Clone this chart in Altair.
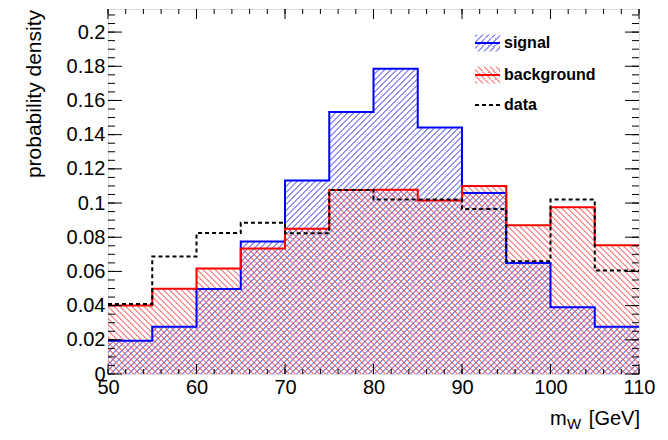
import altair as alt
import numpy as np
import pandas as pd

# ---------------- data ----------------
bin_low = [50, 55, 60, 65, 70, 75, 80, 85, 90, 95, 100, 105]
signal = [0.0195, 0.0277, 0.0497, 0.0775, 0.1132, 0.1532, 0.1785, 0.1442, 0.1058, 0.0650, 0.0390, 0.0277]
background = [0.0400, 0.0498, 0.0617, 0.0734, 0.0850, 0.1077, 0.1078, 0.1015, 0.1100, 0.0870, 0.0975, 0.0753]
data_vals = [0.0410, 0.0688, 0.0825, 0.0884, 0.0824, 0.1077, 0.1020, 0.1020, 0.0965, 0.0660, 0.1020, 0.0606]
x_labels = [50, 60, 70, 80, 90, 100, 110]
y_labels = [0, 0.02, 0.04, 0.06, 0.08, 0.1, 0.12, 0.14, 0.16, 0.18, 0.2]
series_names = ["signal", "background", "data"]

# ---------------- layout / style ----------------
X0, X1 = 50, 110
YMAX = 0.2135
PW, PH = 531, 365
FONT = "Liberation Sans"
BLUE, RED = "#0000ff", "#ff0000"
BLUE_HATCH, RED_HATCH = "rgba(50,50,235,0.52)", "rgba(240,55,55,0.52)"
CLEAR = "rgba(255,255,255,0)"

xscale = alt.Scale(domain=[X0, X1], nice=False, zero=False)
yscale = alt.Scale(domain=[0, YMAX], nice=False, zero=True)

x_axis = alt.Axis(values=x_labels, ticks=False, domain=False, grid=False, title=None,
                  labelFontSize=20, labelPadding=3, labelFlush=False, labelOverlap=False,
                  labelFont=FONT, labelColor="black")
y_axis = alt.Axis(values=y_labels, format="~g", ticks=False, domain=False, grid=False, title=None,
                  labelFontSize=20, labelPadding=3, labelFlush=False, labelOverlap=False,
                  labelFont=FONT, labelColor="black")
x_enc = alt.X("x:Q", scale=xscale, axis=x_axis)
y_enc = alt.Y("y:Q", scale=yscale, axis=y_axis)


def step_df(values):
    return pd.DataFrame({"x": bin_low + [X1], "y": list(values) + [values[-1]]})


def hatch(w, h, color, rising=True, period=6.0, width=2.0, phase=0.5):
    """Linear gradient with hard stops drawing 45-degree hatch lines.
    Stripes are `width` px wide (measured along a pixel row) every `period` px,
    with their edges placed between pixel centres (phase) to avoid moire."""
    r = h / w
    k = 1.02 * (1 + r) / (1 + r * r)
    span = w * k * (1 + r * r)  # extent of x+y (px) covered by t in [0,1]
    stops = [{"offset": 0, "color": CLEAR}]
    s = phase - period
    while s < span:
        a, b, nxt = s, s + width, s + period
        for lo, hi, col in [(a, b, color), (b, nxt, CLEAR)]:
            lo_c, hi_c = max(lo, 0.0), min(hi, span)
            if hi_c > lo_c:
                stops.append({"offset": round(lo_c / span, 7), "color": col})
                stops.append({"offset": round(hi_c / span, 7), "color": col})
        s = nxt
    if rising:
        g = {"gradient": "linear", "x1": 0, "y1": 0, "x2": k, "y2": k * r}
    else:
        g = {"gradient": "linear", "x1": 0, "y1": 1, "x2": k, "y2": 1 - k * r}
    g["stops"] = stops
    return g


sig_df = step_df(signal)
bkg_df = step_df(background)
dat_df = step_df(data_vals)

h_sig = max(signal) / YMAX * PH
h_bkg = max(background) / YMAX * PH
top_sig = PH - h_sig  # bbox top of the signal area (px)

sig_area = alt.Chart(sig_df).mark_area(
    interpolate="step-after",
    fill=hatch(PW, h_sig, BLUE_HATCH, rising=True, phase=(0.5 - top_sig) % 1.0),
).encode(x=x_enc, y=y_enc)
bkg_area = alt.Chart(bkg_df).mark_area(
    interpolate="step-after",
    fill=hatch(PW, h_bkg, RED_HATCH, rising=False, phase=0.5),
).encode(x=x_enc, y=y_enc)

sig_line = alt.Chart(sig_df).mark_line(interpolate="step-after", color=BLUE, strokeWidth=2).encode(x=x_enc, y=y_enc)
bkg_line = alt.Chart(bkg_df).mark_line(interpolate="step-after", color=RED, strokeWidth=2).encode(x=x_enc, y=y_enc)
dat_line = alt.Chart(dat_df).mark_line(
    interpolate="step-after", color="black", strokeWidth=2, strokeDash=[4, 3]
).encode(x=x_enc, y=y_enc)

# ---------------- inward ROOT-style ticks ----------------
x_major = np.arange(X0, X1 + 0.001, 10)
x_minor = np.arange(X0, X1 + 0.001, 2)
y_major = np.arange(0, YMAX, 0.02)
y_minor = np.arange(0, YMAX, 0.005)


def xticks(vals, length):
    df = pd.DataFrame({"x": vals})
    bottom = alt.Chart(df).mark_rule(color="black", strokeWidth=1).encode(
        x=x_enc, y=alt.value(PH), y2=alt.value(PH - length))
    top = alt.Chart(df).mark_rule(color="black", strokeWidth=1).encode(
        x=x_enc, y=alt.value(0), y2=alt.value(length))
    return [bottom, top]


def yticks(vals, length):
    df = pd.DataFrame({"y": vals})
    left = alt.Chart(df).mark_rule(color="black", strokeWidth=1).encode(
        y=y_enc, x=alt.value(0), x2=alt.value(length))
    right = alt.Chart(df).mark_rule(color="black", strokeWidth=1).encode(
        y=y_enc, x=alt.value(PW), x2=alt.value(PW - length))
    return [left, right]


tick_layers = xticks(x_major, 10) + xticks(x_minor, 5) + yticks(y_major, 14) + yticks(y_minor, 7)

# ---------------- legend ----------------
LEG_X0, LEG_X1, LEG_TX = 367, 392, 396
LEG_Y = [34, 66, 96]


def one(name):
    return pd.DataFrame({"label": [name]})


legend_layers = []
for name, yy, col, hcol, rising in [
    (series_names[0], LEG_Y[0], BLUE, BLUE_HATCH, True),
    (series_names[1], LEG_Y[1], RED, RED_HATCH, False),
]:
    legend_layers.append(
        alt.Chart(one(name)).mark_rect(fill=hatch(LEG_X1 - LEG_X0, 17, hcol, rising=rising)).encode(
            x=alt.value(LEG_X0), x2=alt.value(LEG_X1), y=alt.value(yy - 8.5), y2=alt.value(yy + 8.5))
    )
    legend_layers.append(
        alt.Chart(one(name)).mark_rule(color=col, strokeWidth=2).encode(
            x=alt.value(LEG_X0), x2=alt.value(LEG_X1), y=alt.value(yy))
    )
legend_layers.append(
    alt.Chart(one(series_names[2])).mark_rule(color="black", strokeWidth=2, strokeDash=[4, 3]).encode(
        x=alt.value(LEG_X0), x2=alt.value(LEG_X1), y=alt.value(LEG_Y[2]))
)
for name, yy in zip(series_names, LEG_Y):
    legend_layers.append(
        alt.Chart(one(name)).mark_text(
            font=FONT, fontSize=16, fontWeight="bold", align="left", baseline="middle", color="black"
        ).encode(x=alt.value(LEG_TX), y=alt.value(yy), text="label:N")
    )

# ---------------- axis titles ----------------
ytitle = alt.Chart(one("probability density")).mark_text(
    font=FONT, fontSize=21, angle=270, align="right", baseline="middle", color="black"
).encode(x=alt.value(-73), y=alt.value(1), text="label:N")

xt_m = alt.Chart(one("m")).mark_text(
    font=FONT, fontSize=20, align="left", baseline="alphabetic", color="black"
).encode(x=alt.value(442), y=alt.value(416), text="label:N")
xt_w = alt.Chart(one("W")).mark_text(
    font=FONT, fontSize=15, align="left", baseline="alphabetic", color="black"
).encode(x=alt.value(459), y=alt.value(420), text="label:N")
xt_gev = alt.Chart(one("[GeV]")).mark_text(
    font=FONT, fontSize=20, align="right", baseline="alphabetic", color="black"
).encode(x=alt.value(PW + 1), y=alt.value(416), text="label:N")

chart = alt.layer(
    sig_area, bkg_area, sig_line, bkg_line, dat_line,
    *tick_layers, *legend_layers, ytitle, xt_m, xt_w, xt_gev,
).properties(
    width=PW, height=PH,
    autosize=alt.AutoSizeParams(type="none"),
    padding={"left": 100, "top": 1, "right": 21, "bottom": 58},
).configure_view(
    stroke="black", strokeWidth=1
).configure(
    font=FONT, background="white"
)

chart.save("out.html", embed_options={"renderer": "svg", "actions": False})
